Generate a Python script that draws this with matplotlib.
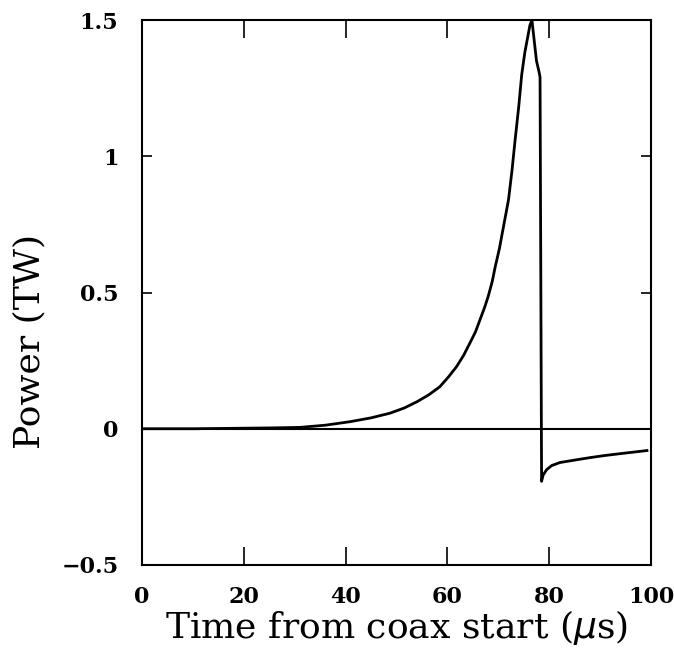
import matplotlib
matplotlib.use("Agg")
import matplotlib.pyplot as plt

# values
time_us = [0, 10, 15, 20, 25, 31, 36, 40.9, 45, 48.7, 51.5, 54.0, 56.3,
           58.5, 60.2, 61.8, 63.2, 64.4, 65.5, 66.4, 67.3, 68.0, 68.8, 69.4,
           70.2, 71.1, 72.0, 72.7, 73.3, 74.0, 74.6, 75.2, 75.7, 76.2, 76.6,
           77.2, 77.5, 78.0, 78.2, 78.5, 78.8, 79.5, 80.5, 82.1, 85, 88, 91,
           94.6, 99.2]
power_tw = [0, 0, 0.001, 0.002, 0.003, 0.005, 0.013, 0.026, 0.040, 0.057,
            0.076, 0.099, 0.124, 0.154, 0.19, 0.228, 0.27, 0.314, 0.355,
            0.40, 0.445, 0.485, 0.54, 0.595, 0.66, 0.75, 0.84, 0.95, 1.06,
            1.18, 1.30, 1.38, 1.43, 1.48, 1.50, 1.40, 1.35, 1.31, 1.29,
            -0.193, -0.17, -0.15, -0.135, -0.124, -0.115, -0.106, -0.098,
            -0.09, -0.08]

xticks = [0, 20, 40, 60, 80, 100]
yticks = [-0.5, 0, 0.5, 1, 1.5]
ylabels = ["\u22120.5", "0", "0.5", "1", "1.5"]

fig = plt.figure(figsize=(6.74, 6.48), dpi=100)
ax = fig.add_axes([0.2107, 0.1281, 0.7552, 0.8410])

ax.axhline(0, color="black", linewidth=1.5)
ax.plot(time_us, power_tw, color="black", linewidth=2.0,
        solid_joinstyle="round")

ax.set_xlim(0, 100)
ax.set_ylim(-0.5, 1.5)
ax.set_xticks(xticks)
ax.set_yticks(yticks)
ax.set_yticklabels(ylabels)
ax.tick_params(axis="x", direction="in", length=13, width=1.2, top=True,
               pad=15, labelsize=16)
ax.tick_params(axis="y", direction="in", length=7, width=1.2, right=True,
               pad=17, labelsize=16)
for lab in ax.get_xticklabels() + ax.get_yticklabels():
    lab.set_family("DejaVu Serif")
    lab.set_fontweight("bold")
for sp in ax.spines.values():
    sp.set_linewidth(1.5)

ax.set_xlabel(r"Time from coax start ($\mu$s)", family="DejaVu Serif",
              fontsize=26, labelpad=0)
ax.set_ylabel("Power (TW)", family="DejaVu Serif", fontsize=26)
ax.yaxis.set_label_coords(-0.187, 0.41)

fig.savefig("out.png", dpi=100)
